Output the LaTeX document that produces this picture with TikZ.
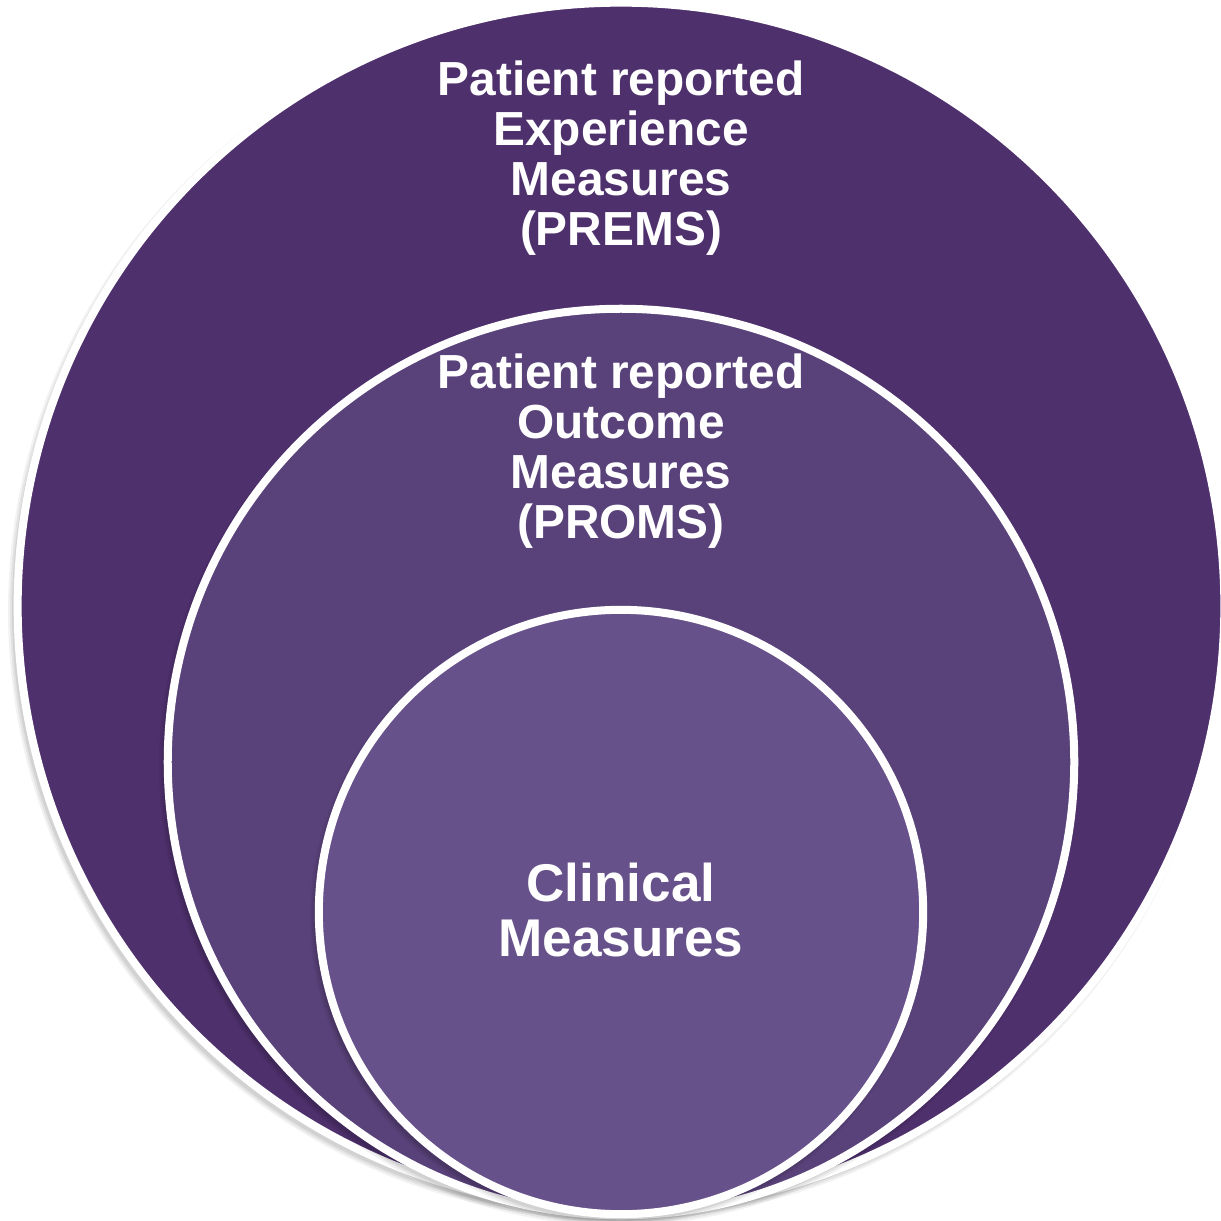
\documentclass[tikz,border=0pt]{standalone}
\usepackage{fontspec}
\setmainfont{Liberation Sans}
\begin{document}
\begin{tikzpicture}[x=0.01cm,y=-0.01cm,
  ring/.style={circle, draw=white, line width=0.08cm, inner sep=0pt, outer sep=0pt},
  ringshadow/.style={circle, fill=black, inner sep=0pt, outer sep=0pt},
  caption/.style={text=white, align=center, font=\bfseries\fontsize{13.6pt}{14.2pt}\selectfont},
  bigcaption/.style={text=white, align=center, font=\bfseries\fontsize{15.1pt}{15.7pt}\selectfont}]
\definecolor{outerpurple}{HTML}{4E306C}
\definecolor{midpurple}{HTML}{59427A}
\definecolor{innerpurple}{HTML}{67518A}
\useasboundingbox (0,0) rectangle (1221,1221);
\fill[white] (0,0) rectangle (1221,1221);
% soft shadows under each ring
\foreach \o/\s in {0.05/1218, 0.06/1214, 0.07/1210} {
  \node[ringshadow, opacity=\o, minimum size=\s*0.01cm] (sh1) at (617,611) {};
}
\node[ring, fill=outerpurple, minimum size=12.06cm] (outer) at (621,606) {};
\foreach \o/\s in {0.05/918, 0.06/914, 0.07/910} {
  \node[ringshadow, opacity=\o, minimum size=\s*0.01cm] (sh2) at (618,767) {};
}
\node[ring, fill=midpurple, minimum size=9.06cm] (middle) at (621,762) {};
\foreach \o/\s in {0.05/616, 0.06/612, 0.07/608} {
  \node[ringshadow, opacity=\o, minimum size=\s*0.01cm] (sh3) at (618,917) {};
}
\node[ring, fill=innerpurple, minimum size=6.04cm] (inner) at (621,912) {};
% labels
\node[caption] (prems) at (621,158) {Patient reported\\Experience\\Measures\\(PREMS)};
\node[caption] (proms) at (621,451) {Patient reported\\Outcome\\Measures\\(PROMS)};
\node[bigcaption] (clinical) at (621,910) {Clinical\\Measures};
\end{tikzpicture}
\end{document}
